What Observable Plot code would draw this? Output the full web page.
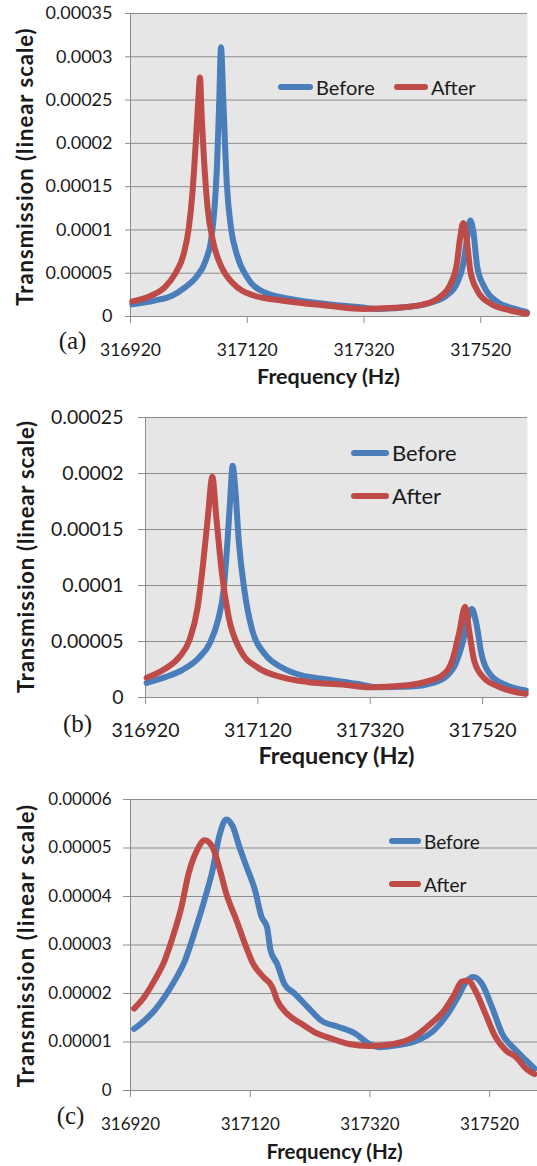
<!DOCTYPE html>
<html><head><meta charset="utf-8">
<script src="https://cdn.jsdelivr.net/npm/d3@7"></script>
<script src="https://cdn.jsdelivr.net/npm/@observablehq/plot@0.6"></script>
<style>
body{margin:0;background:#fff;}
#root{position:relative;width:537px;height:1166px;overflow:hidden;font-family:Lato,sans-serif;}
.panel{position:absolute;left:0;width:537px;}
.leg{position:absolute;display:flex;align-items:center;white-space:nowrap;color:#1a1a1a;line-height:1;}
.leg .sw{display:inline-block;height:6px;border-radius:3px;margin-right:3px;}
</style></head><body><div id="root"></div>
<script>
// ---- shared ----
const xTicks = [316920, 317120, 317320, 317520];
const xTickLabels = ["316920", "317120", "317320", "317520"];
const xDomain = [316920, 317600];
const seriesNames = ["Before", "After"];
const seriesColors = ["#4a7ebb", "#be4b48"];
const xTitle = "Frequency (Hz)";
const yTitle = "Transmission (linear scale)";
const panelTags = ["(a)", "(b)", "(c)"];

// ---- panel (a) ----
const yTicksA = [0, 0.00005, 0.0001, 0.00015, 0.0002, 0.00025, 0.0003, 0.00035];
const yTickLabelsA = ["0", "0.00005", "0.0001", "0.00015", "0.0002", "0.00025", "0.0003", "0.00035"];
const freqBeforeA = [316923, 316961, 316991, 317014, 317032, 317049, 317058, 317064, 317068, 317072, 317075, 317079, 317085, 317092, 317102, 317120, 317149, 317196, 317255, 317314, 317343, 317402, 317437, 317461, 317479, 317490, 317496, 317502, 317507, 317514, 317526, 317549, 317579, 317599];
const transBeforeA = [1.4e-5, 1.85e-5, 2.4e-5, 3.4e-5, 4.5e-5, 6.5e-5, 8.8e-5, 1.26e-4, 1.72e-4, 2.49e-4, 3.11e-4, 2.49e-4, 1.53e-4, 1.03e-4, 7.2e-5, 4.5e-5, 2.8e-5, 2.0e-5, 1.46e-5, 1.08e-5, 8.8e-6, 1.15e-5, 1.65e-5, 2.4e-5, 3.8e-5, 6.1e-5, 8.8e-5, 1.11e-4, 9.9e-5, 5.7e-5, 3.4e-5, 1.65e-5, 8.8e-6, 5e-6];
const freqAfterA = [316923, 316955, 316979, 316996, 317011, 317020, 317026, 317032, 317036, 317039, 317042, 317046, 317052, 317061, 317076, 317096, 317132, 317179, 317255, 317320, 317373, 317420, 317449, 317467, 317479, 317484, 317490, 317496, 317502, 317514, 317537, 317567, 317599];
const transAfterA = [1.73e-5, 2.4e-5, 3.4e-5, 4.9e-5, 7.2e-5, 1.03e-4, 1.42e-4, 2.03e-4, 2.49e-4, 2.76e-4, 2.3e-4, 1.8e-4, 1.26e-4, 8.8e-5, 5.7e-5, 3.8e-5, 2.4e-5, 1.85e-5, 1.27e-5, 8.8e-6, 1.0e-5, 1.38e-5, 2.2e-5, 3.6e-5, 6.1e-5, 8.8e-5, 1.08e-4, 8.8e-5, 5.3e-5, 3.0e-5, 1.46e-5, 7.7e-6, 3.1e-6];

// ---- panel (b) ----
const yTicksB = [0, 0.00005, 0.0001, 0.00015, 0.0002, 0.00025];
const yTickLabelsB = ["0", "0.00005", "0.0001", "0.00015", "0.0002", "0.00025"];
const freqBeforeB = [316922, 316955, 316986, 317016, 317034, 317049, 317059, 317066, 317071, 317075, 317080, 317086, 317096, 317110, 317132, 317162, 317198, 317235, 317296, 317332, 317393, 317430, 317454, 317472, 317484, 317493, 317501, 317509, 317518, 317533, 317563, 317597];
const transBeforeB = [1.31e-5, 1.82e-5, 2.47e-5, 3.6e-5, 4.8e-5, 6.9e-5, 9.6e-5, 1.40e-4, 1.79e-4, 2.07e-4, 1.85e-4, 1.40e-4, 9.6e-5, 6.0e-5, 3.9e-5, 2.7e-5, 1.97e-5, 1.67e-5, 1.22e-5, 9.2e-6, 9.8e-6, 1.28e-5, 1.82e-5, 3.0e-5, 4.8e-5, 6.9e-5, 7.9e-5, 6.6e-5, 3.9e-5, 2.1e-5, 1.07e-5, 6.3e-6];
const freqAfterB = [316922, 316955, 316980, 316998, 317013, 317022, 317031, 317039, 317046, 317056, 317068, 317089, 317119, 317162, 317211, 317271, 317320, 317381, 317423, 317448, 317466, 317478, 317489, 317496, 317505, 317521, 317551, 317597];
const transAfterB = [1.76e-5, 2.56e-5, 3.6e-5, 5.1e-5, 8.1e-5, 1.17e-4, 1.61e-4, 1.97e-4, 1.61e-4, 1.11e-4, 7.2e-5, 4.2e-5, 2.7e-5, 1.82e-5, 1.37e-5, 1.16e-5, 9.2e-6, 1.07e-5, 1.46e-5, 1.97e-5, 3.3e-5, 5.7e-5, 8.1e-5, 6.0e-5, 3.3e-5, 1.82e-5, 9.2e-6, 3.3e-6];

// ---- panel (c) ----
const yTicksC = [0, 0.00001, 0.00002, 0.00003, 0.00004, 0.00005, 0.00006];
const yTickLabelsC = ["0", "0.00001", "0.00002", "0.00003", "0.00004", "0.00005", "0.00006"];
const freqBeforeC = [316926, 316943, 316960, 316977, 316994, 317011, 317028, 317045, 317057, 317068, 317080, 317091, 317102, 317114, 317128, 317139, 317148, 317154, 317165, 317177, 317194, 317216, 317239, 317268, 317296, 317319, 317336, 317365, 317399, 317427, 317450, 317467, 317481, 317493, 317507, 317524, 317541, 317564, 317581, 317595];
const transBeforeC = [1.27e-5, 1.44e-5, 1.65e-5, 1.93e-5, 2.27e-5, 2.68e-5, 3.30e-5, 3.99e-5, 4.54e-5, 5.23e-5, 5.59e-5, 5.44e-5, 5.02e-5, 4.61e-5, 4.13e-5, 3.58e-5, 3.37e-5, 2.89e-5, 2.61e-5, 2.20e-5, 2.00e-5, 1.72e-5, 1.44e-5, 1.31e-5, 1.17e-5, 9.6e-6, 8.9e-6, 9.3e-6, 1.03e-5, 1.24e-5, 1.58e-5, 1.93e-5, 2.24e-5, 2.34e-5, 2.20e-5, 1.72e-5, 1.17e-5, 8.3e-6, 6.2e-6, 4.5e-6];
const freqAfterC = [316926, 316943, 316960, 316977, 316994, 317005, 317017, 317031, 317044, 317057, 317068, 317080, 317097, 317111, 317125, 317142, 317157, 317165, 317182, 317205, 317228, 317256, 317285, 317319, 317359, 317393, 317422, 317444, 317462, 317473, 317484, 317496, 317513, 317530, 317547, 317564, 317581, 317595];
const transAfterC = [1.69e-5, 1.93e-5, 2.27e-5, 2.68e-5, 3.30e-5, 3.78e-5, 4.47e-5, 4.95e-5, 5.16e-5, 5.02e-5, 4.61e-5, 4.06e-5, 3.51e-5, 3.03e-5, 2.61e-5, 2.34e-5, 2.13e-5, 1.86e-5, 1.58e-5, 1.38e-5, 1.20e-5, 1.07e-5, 9.6e-6, 9.2e-6, 9.6e-6, 1.10e-5, 1.38e-5, 1.65e-5, 2.00e-5, 2.24e-5, 2.27e-5, 2.06e-5, 1.58e-5, 1.10e-5, 8.3e-6, 6.9e-6, 4.5e-6, 3.4e-6];

function toRows(fs, vs) { return fs.map((f, i) => ({f, v: vs[i]})); }

function makePanel(cfg) {
  const labelOf = new Map(cfg.yTicks.map((t, i) => [t, cfg.yTickLabels[i]]));
  const xLabelOf = new Map(xTicks.map((t, i) => [t, xTickLabels[i]]));
  const plotW = 537 - cfg.mL - cfg.mR;
  const plotH = cfg.height - cfg.mT - cfg.mB;
  const svg = Plot.plot({
    width: 537, height: cfg.height,
    marginTop: cfg.mT, marginBottom: cfg.mB, marginLeft: cfg.mL, marginRight: cfg.mR,
    style: {fontFamily: "Lato, sans-serif", fontSize: cfg.tickFont + "px", color: "#1a1a1a", background: "transparent", overflow: "visible"},
    x: {domain: xDomain, axis: null},
    y: {domain: [0, cfg.yTicks[cfg.yTicks.length - 1]], axis: null},
    marks: [
      Plot.frame({fill: "#e6e6e6", stroke: null}),
      Plot.gridY(cfg.yTicks, {stroke: "#8c8c8c", strokeOpacity: 1, strokeWidth: 1}),
      Plot.ruleX([xDomain[0]], {stroke: "#8c8c8c"}),
      Plot.axisY(cfg.yTicks, {tickSize: cfg.yTickSize, tickPadding: cfg.yPad, tickFormat: d => labelOf.get(d), stroke: "#8c8c8c", fontSize: cfg.tickFont, label: null}),
      Plot.axisX(xTicks, {tickSize: 7, tickPadding: cfg.xPad, tickFormat: d => xLabelOf.get(d), stroke: "#8c8c8c", fontSize: cfg.xTickFont, label: null}),
      Plot.line(toRows(cfg.before[0], cfg.before[1]), {x: "f", y: "v", stroke: seriesColors[0], strokeWidth: 6, curve: "monotone-x", strokeLinejoin: "round", strokeLinecap: "round"}),
      Plot.line(toRows(cfg.after[0], cfg.after[1]), {x: "f", y: "v", stroke: seriesColors[1], strokeWidth: 6, curve: "monotone-x", strokeLinejoin: "round", strokeLinecap: "round"}),
      Plot.text([xTitle], {frameAnchor: "bottom", textAnchor: "middle", lineAnchor: "middle", dx: cfg.xTitleCx - (cfg.mL + plotW / 2), dy: cfg.xTitleDy, fontWeight: "bold", fontSize: cfg.xTitleFont, fill: "#1a1a1a"}),
      Plot.text([yTitle], {frameAnchor: "left", textAnchor: "middle", lineAnchor: "middle", rotate: -90, dx: cfg.yTitleCx - cfg.mL, dy: cfg.yTitleCy - (cfg.mT + plotH / 2), fontWeight: "bold", fontSize: cfg.yTitleFont, fill: "#1a1a1a"}),
      Plot.text([cfg.tag], {frameAnchor: "bottom-left", textAnchor: "middle", lineAnchor: "middle", dx: cfg.tagCx - cfg.mL, dy: cfg.tagDy, fontFamily: "Liberation Serif, Times New Roman, serif", fontSize: 25, fill: "#1a1a1a"})
    ]
  });
  // slight letter spacing on the axis titles (the reference font runs wider)
  svg.querySelectorAll("text").forEach(t => {
    if (t.textContent === yTitle) t.style.letterSpacing = cfg.yTitleSpacing + "px";
  });
  const wrap = document.createElement("div");
  wrap.className = "panel";
  wrap.style.top = cfg.top + "px";
  wrap.style.height = cfg.height + "px";
  wrap.appendChild(svg);
  cfg.legend.forEach((it, i) => {
    const d = document.createElement("div");
    d.className = "leg";
    d.style.left = it.x + "px";
    d.style.top = (it.y - 12) + "px";
    d.style.height = "24px";
    d.style.fontSize = cfg.legFont + "px";
    const sw = document.createElement("span");
    sw.className = "sw";
    sw.style.width = it.w + "px";
    sw.style.background = seriesColors[i];
    d.appendChild(sw);
    d.appendChild(document.createTextNode(seriesNames[i]));
    wrap.appendChild(d);
  });
  document.getElementById("root").appendChild(wrap);
}

makePanel({top: 0, height: 390, mT: 13, mB: 74, mL: 130, mR: 10,
  yTicks: yTicksA, yTickLabels: yTickLabelsA, before: [freqBeforeA, transBeforeA], after: [freqAfterA, transAfterA],
  tickFont: 18, xTickFont: 17.5, yTickSize: 5, yPad: 13, xPad: 20,
  xTitleCx: 328, xTitleDy: 61, xTitleFont: 21.5, yTitleCx: 25, yTitleCy: 166, yTitleFont: 22, yTitleSpacing: 1,
  tag: panelTags[0], tagCx: 72, tagDy: 24, legFont: 20,
  legend: [{x: 278, y: 87, w: 35}, {x: 394, y: 87, w: 34}]});

makePanel({top: 390, height: 390, mT: 27, mB: 83, mL: 145, mR: 10,
  yTicks: yTicksB, yTickLabels: yTickLabelsB, before: [freqBeforeB, transBeforeB], after: [freqAfterB, transAfterB],
  tickFont: 19.5, xTickFont: 19.5, yTickSize: 7, yPad: 15, xPad: 19,
  xTitleCx: 336, xTitleDy: 59, xTitleFont: 23.5, yTitleCx: 26, yTitleCy: 166, yTitleFont: 22, yTitleSpacing: 0.8,
  tag: panelTags[1], tagCx: 77, tagDy: 26, legFont: 22,
  legend: [{x: 351, y: 63, w: 38}, {x: 351, y: 106, w: 38}]});

makePanel({top: 780, height: 386, mT: 19, mB: 76, mL: 130, mR: 0,
  yTicks: yTicksC, yTickLabels: yTickLabelsC, before: [freqBeforeC, transBeforeC], after: [freqAfterC, transAfterC],
  tickFont: 17, xTickFont: 17, yTickSize: 7, yPad: 12, xPad: 20,
  xTitleCx: 334, xTitleDy: 62, xTitleFont: 20.5, yTitleCx: 26, yTitleCy: 165, yTitleFont: 22, yTitleSpacing: 1.2,
  tag: panelTags[2], tagCx: 70, tagDy: 25, legFont: 19,
  legend: [{x: 389, y: 61, w: 32}, {x: 389, y: 104, w: 32}]});
</script>
</body></html>
